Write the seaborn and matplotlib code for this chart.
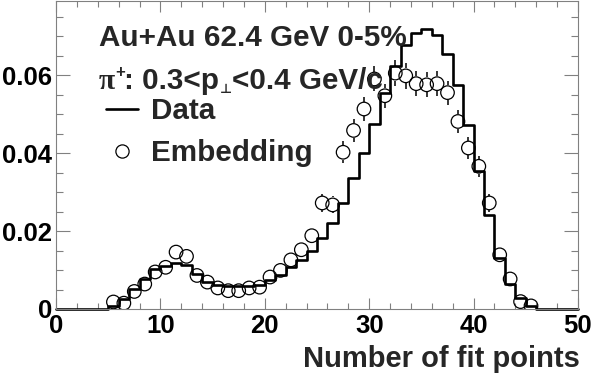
import numpy as np
import pandas as pd
import matplotlib
matplotlib.use("Agg")
import matplotlib.pyplot as plt
from matplotlib.lines import Line2D
from matplotlib.ticker import MultipleLocator
import seaborn as sns

# ---------------- data ----------------
bin_edges = list(range(0, 51))
data_values = [0, 0, 0, 0, 0,
               0.0007, 0.0026, 0.0051, 0.0078, 0.0102,
               0.0111, 0.0118, 0.0113, 0.0090, 0.0068,
               0.0062, 0.0060, 0.0060, 0.0060, 0.0061,
               0.0075, 0.0088, 0.0108, 0.0126, 0.0150,
               0.0182, 0.0221, 0.0272, 0.0335, 0.0401,
               0.0475, 0.0555, 0.0622, 0.0678, 0.0709,
               0.0719, 0.0704, 0.0653, 0.0574, 0.0472,
               0.0355, 0.0242, 0.0130, 0.0065, 0.0028,
               0.0007, 0, 0, 0, 0]
emb_bins = list(range(5, 46))
emb_values = [0.0018, 0.0015, 0.0045, 0.0064, 0.0095,
              0.0107, 0.0146, 0.0135, 0.0086, 0.0069,
              0.0054, 0.0047, 0.0047, 0.0054, 0.0056,
              0.0082, 0.0099, 0.0126, 0.0152, 0.0188,
              0.0272, 0.0267, 0.0402, 0.0458, 0.0513,
              0.0590, 0.0547, 0.0605, 0.0598, 0.0578,
              0.0575, 0.0578, 0.0555, 0.0481, 0.0413,
              0.0366, 0.0272, 0.0139, 0.0077, 0.0019,
              0.0008]
emb_errors = [0.0004, 0.0004, 0.0006, 0.0007, 0.0009,
              0.0009, 0.0011, 0.0011, 0.0009, 0.0008,
              0.0007, 0.0007, 0.0007, 0.0007, 0.0007,
              0.0009, 0.0010, 0.0011, 0.0012, 0.0014,
              0.0022, 0.0022, 0.0028, 0.0030, 0.0030,
              0.0032, 0.0031, 0.0033, 0.0033, 0.0032,
              0.0032, 0.0032, 0.0031, 0.0030, 0.0028,
              0.0027, 0.0023, 0.0016, 0.0012, 0.0006,
              0.0004]
x_ticks = [0, 10, 20, 30, 40, 50]
y_ticks = [0, 0.02, 0.04, 0.06]
y_tick_labels = ["0", "0.02", "0.04", "0.06"]
title_line1 = "Au+Au 62.4 GeV 0-5%"
# second line pieces: "π⁺: 0.3<p⊥<0.4 GeV/c"
line2_pieces = ["\u03c0", "+", ": 0.3<p", "\u22a5", "<0.4 GeV/c"]
legend_labels = ["Data", "Embedding"]
x_label = "Number of fit points"

# ---------------- style ----------------
sns.set_style("ticks")
plt.rcParams["font.family"] = ["Liberation Sans", "DejaVu Sans"]
plt.rcParams["font.weight"] = "bold"

W, H = 592, 379
fig = plt.figure(figsize=(W / 100, H / 100), dpi=100)
ax_l, ax_r, ax_t, ax_b = 56, 578, 1, 309
ax = fig.add_axes([ax_l / W, (H - ax_b) / H, (ax_r - ax_l) / W, (ax_b - ax_t) / H])

centers = [b + 0.5 for b in bin_edges[:-1]]
df_data = pd.DataFrame({"nfit": centers, "w": data_values})
sns.histplot(data=df_data, x="nfit", weights="w", bins=bin_edges,
             element="step", fill=False, color="black", linewidth=1.9, ax=ax)
for ln in ax.lines:
    ln.set_clip_on(False)

emb_x = np.array([b + 0.5 for b in emb_bins])
emb_y = np.array(emb_values)
emb_e = np.array(emb_errors)
df_emb = pd.DataFrame({"nfit": emb_x, "frac": emb_y})
sns.scatterplot(data=df_emb, x="nfit", y="frac", marker="o", s=95,
                facecolors="none", edgecolor="black", linewidth=0.9, ax=ax, zorder=3)

# ROOT-style error bars drawn only outside the marker
r = 0.0019
mask = emb_e > r
ax.vlines(emb_x[mask], emb_y[mask] + r, emb_y[mask] + emb_e[mask], color="black", lw=1.1)
ax.vlines(emb_x[mask], emb_y[mask] - emb_e[mask], emb_y[mask] - r, color="black", lw=1.1)

ax.set_xlim(0, 50)
ax.set_ylim(0, 0.079)
ax.set_xticks(x_ticks)
ax.set_xticklabels([str(t) for t in x_ticks])
ax.set_yticks(y_ticks)
ax.set_yticklabels(y_tick_labels)
ax.xaxis.set_minor_locator(MultipleLocator(2))
ax.yaxis.set_minor_locator(MultipleLocator(0.005))
ax.tick_params(axis="both", which="both", direction="in", top=True, right=True,
               color="#808080", width=0.8, labelsize=18.5, labelcolor="black")
ax.tick_params(axis="x", which="major", length=8, pad=3.5)
ax.tick_params(axis="x", which="minor", length=4)
ax.tick_params(axis="y", which="major", length=10, pad=3)
ax.tick_params(axis="y", which="minor", length=5)
for lab in ax.get_xticklabels() + ax.get_yticklabels():
    lab.set_fontweight("bold")
for s in ax.spines.values():
    s.set_visible(True)
    s.set_color("#808080")
    s.set_linewidth(0.8)

ax.set_ylabel("")
ax.set_xlabel(x_label, fontsize=21, fontweight="bold", loc="right")
ax.xaxis.set_label_coords((580 - ax_l) / (ax_r - ax_l), (ax_b - 345) / (ax_b - ax_t))

def axpt(px, py):
    return ((px - ax_l) / (ax_r - ax_l), (ax_b - py) / (ax_b - ax_t))

FS = 21.3
ax.text(*axpt(99, 46), title_line1, transform=ax.transAxes, fontsize=FS,
        fontweight="bold", ha="left", va="baseline")

# second line built from pieces (superscript + and subscript perp)
x0, base_y = axpt(99, 89)
p_pi = ax.text(x0, base_y, line2_pieces[0], transform=ax.transAxes, fontsize=FS,
               fontfamily=["Liberation Serif", "DejaVu Serif"], fontweight="bold",
               ha="left", va="baseline")
p_plus = ax.annotate(line2_pieces[1], xy=(1, base_y), xycoords=(p_pi, ax.transAxes),
                     xytext=(0.2, 8.5), textcoords="offset points", fontsize=12,
                     fontweight="bold", ha="left", va="baseline")
p_mid = ax.annotate(line2_pieces[2], xy=(1, base_y), xycoords=(p_plus, ax.transAxes),
                    xytext=(-0.5, 0), textcoords="offset points", fontsize=FS,
                    fontweight="bold", ha="left", va="baseline")
p_perp = ax.annotate(line2_pieces[3], xy=(1, base_y), xycoords=(p_mid, ax.transAxes),
                     xytext=(0.0, -3), textcoords="offset points", fontsize=9.5,
                     fontfamily=["DejaVu Sans"], fontweight="bold", ha="left", va="baseline")
p_end = ax.annotate(line2_pieces[4], xy=(1, base_y), xycoords=(p_perp, ax.transAxes),
                    xytext=(0, 0), textcoords="offset points", fontsize=FS,
                    fontweight="bold", ha="left", va="baseline")

handles = [Line2D([], [], color="black", lw=1.9),
           Line2D([], [], marker="o", ls="none", mfc="none", mec="black", ms=9.5, mew=0.9)]
leg = ax.legend(handles, legend_labels, loc="upper left",
                bbox_to_anchor=axpt(106, 97), frameon=False, borderpad=0,
                borderaxespad=0, handlelength=1.08, handletextpad=0.45,
                labelspacing=0.47, prop={"size": FS, "weight": "bold"})

fig.savefig("out.png", dpi=100)
